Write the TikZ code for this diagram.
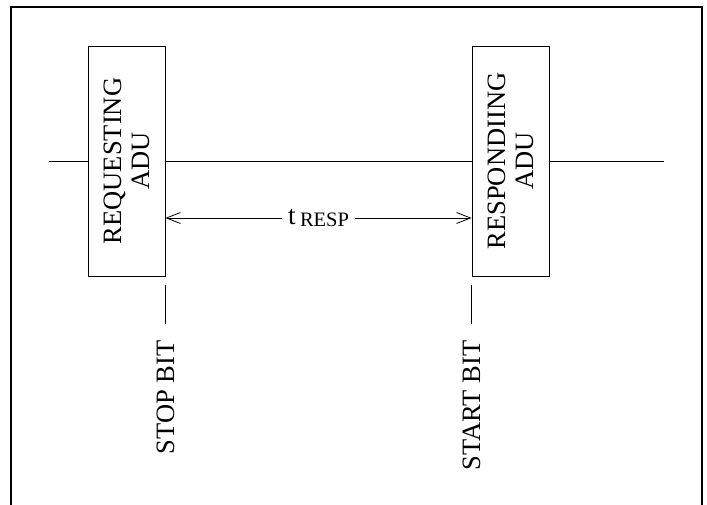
\documentclass[tikz,border=0pt]{standalone}
\usepackage{fontspec}
\setmainfont{Liberation Serif}
\usetikzlibrary{arrows.meta}
\tikzset{
  adu/.style={draw, line width=0.8pt, rotate=90, minimum width=230pt, minimum height=77pt,
    align=center, inner sep=0pt, font=\fontsize{26.5}{28}\selectfont},
  lbl/.style={rotate=90, inner sep=0pt, font=\fontsize{26.5}{28}\selectfont},
  frame/.style={line width=2.6pt},
  wire/.style={line width=0.8pt},
  >={Straight Barb[length=14pt,width=11pt,line width=0.8pt]}
}
\begin{document}
\begin{tikzpicture}[x=1pt,y=1pt]
\useasboundingbox (0,0) rectangle (707,504);
% frame (open at the bottom)
\draw[frame] (11,-2) -- (11,497) -- (702,497) -- (702,-2);

% the two ADUs
\node[adu] (req) at (126.5,343) {REQUESTING\\ADU};
\node[adu] (resp) at (510.5,343) {RESPONDIING\\ADU};

% bus line
\coordinate (lineL) at (49,343);
\coordinate (lineR) at (664,343);
\draw[wire] (lineL) -- (req.north);
\draw[wire] (req.south) -- (resp.north);
\draw[wire] (resp.south) -- (lineR);

% response time
\coordinate (arr) at (0,286);
\draw[wire,<->] (req.south |- arr) -- (resp.north |- arr)
  node[pos=0.5, fill=white, inner xsep=6pt, inner ysep=2pt, font=\fontsize{27}{28}\selectfont]
  (tresp) {t\,\raisebox{-0.2ex}{\fontsize{20.5}{22}\selectfont RESP}};

% bit markers
\node[lbl, anchor=east] (stop) at ([yshift=-64pt]req.south west) {STOP BIT};
\node[lbl, anchor=east] (start) at ([yshift=-64pt]resp.north west) {START BIT};
\draw[wire, shorten <=9pt, shorten >=16pt] (req.south west) -- (stop.east);
\draw[wire, shorten <=9pt, shorten >=16pt] (resp.north west) -- (start.east);
\end{tikzpicture}
\end{document}
